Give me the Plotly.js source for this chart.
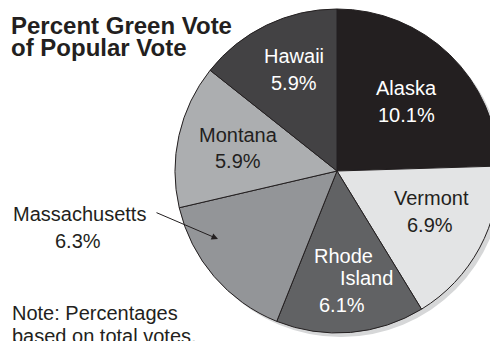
<!DOCTYPE html>
<html>
<head>
<meta charset="utf-8">
<script src="https://cdn.plot.ly/plotly-3.0.1.min.js"></script>
<style>
html,body{margin:0;padding:0;overflow:hidden;background:#fff;}
#chart{width:520px;height:341px;}
</style>
</head>
<body>
<div id="chart"></div>
<script>
// ---- data ----
var states = ['Alaska', 'Vermont', 'Rhode Island', 'Massachusetts', 'Montana', 'Hawaii'];
var percents = [10.1, 6.9, 6.1, 6.3, 5.9, 5.9];
var titleLines = ['Percent Green Vote', 'of Popular Vote'];
var noteLines = ['Note: Percentages', 'based on total votes.'];

// ---- styles ----
var sliceColors = ['#231f20', '#e3e4e5', '#616264', '#939598', '#acaeb0', '#434244'];
var textColors = ['#ffffff', '#231f20', '#ffffff', '#231f20', '#231f20', '#ffffff'];
var FONT = '"Liberation Sans", Arial, Helvetica, sans-serif';
var W = 520, H = 341;
var cx = 337, cy = 171, R = 162;
var shadowDx = 4, shadowDy = 4;

function px(x){ return x / W; }
function py(y){ return 1 - y / H; }

// label line positions (pixel: center x, baseline y), one list per slice
var labelPos = [
  [[406, 95], [406, 122]],
  [[431, 205], [430, 232]],
  [[343, 263], [366, 285], [342, 312]],
  [[79, 221], [78, 248]],
  [[238, 142], [238, 168]],
  [[294, 63], [294, 90]]
];

var fs = 20;
var annotations = [];
states.forEach(function(name, i){
  var lines = (name === 'Rhode Island') ? name.split(' ') : [name];
  lines = lines.concat([percents[i].toFixed(1) + '%']);
  lines.forEach(function(t, j){
    var p = labelPos[i][j];
    annotations.push({
      xref: 'paper', yref: 'paper',
      x: px(p[0]), y: py(p[1] - 0.3465 * fs),
      xanchor: 'center', yanchor: 'middle',
      text: t, showarrow: false,
      font: {family: FONT, size: fs, color: textColors[i]}
    });
  });
});

// title
var tfs = 24;
[[9, 34], [9, 56]].forEach(function(p, j){
  annotations.push({
    xref: 'paper', yref: 'paper',
    x: px(p[0]), y: py(p[1] - 0.3465 * tfs),
    xanchor: 'left', yanchor: 'middle',
    text: '<b>' + titleLines[j] + '</b>', showarrow: false,
    font: {family: FONT, size: tfs, color: '#231f20'}
  });
});

// note
[[10, 320], [10, 343]].forEach(function(p, j){
  annotations.push({
    xref: 'paper', yref: 'paper',
    x: px(p[0]), y: py(p[1] - 0.3465 * fs),
    xanchor: 'left', yanchor: 'middle',
    text: noteLines[j], showarrow: false,
    font: {family: FONT, size: fs, color: '#231f20'}
  });
});

// arrow for Massachusetts
annotations.push({
  xref: 'paper', yref: 'paper',
  x: px(218), y: py(239),
  axref: 'pixel', ayref: 'pixel',
  ax: -63, ay: -27,
  text: '', showarrow: true,
  arrowhead: 2, arrowsize: 1.3, arrowwidth: 1, arrowcolor: '#231f20',
  standoff: 0, startstandoff: 0
});

var shadow = {
  type: 'pie',
  values: [1],
  labels: ['shadow'],
  marker: {colors: ['#d6d7d8'], line: {width: 0}},
  textinfo: 'none', hoverinfo: 'skip', sort: false, showlegend: false,
  domain: {
    x: [px(cx + shadowDx - R), px(cx + shadowDx + R)],
    y: [py(cy + shadowDy + R), py(cy + shadowDy - R)]
  }
};

var pie = {
  type: 'pie',
  values: percents,
  labels: states,
  marker: {colors: sliceColors, line: {color: '#231f20', width: 1}},
  textinfo: 'none', hoverinfo: 'label+value', sort: false,
  direction: 'clockwise', rotation: 0, showlegend: false,
  domain: {
    x: [px(cx - R), px(cx + R)],
    y: [py(cy + R), py(cy - R)]
  }
};

var layout = {
  width: W, height: H,
  margin: {l: 0, r: 0, t: 0, b: 0},
  paper_bgcolor: '#ffffff',
  showlegend: false,
  annotations: annotations
};

Plotly.newPlot('chart', [shadow, pie], layout, {displayModeBar: false, staticPlot: true});
</script>
</body>
</html>
